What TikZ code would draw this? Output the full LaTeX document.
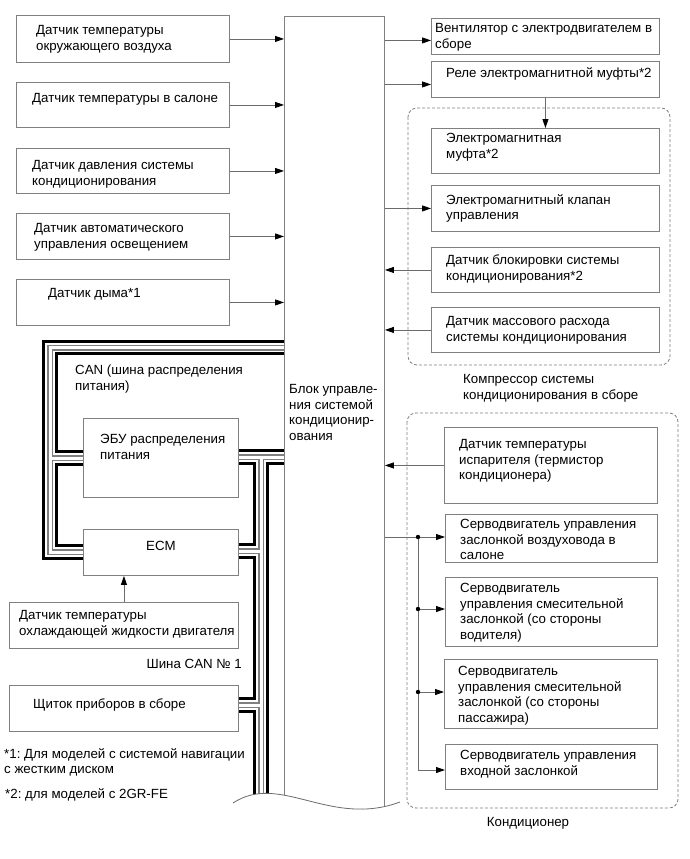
\documentclass[tikz,border=0pt]{standalone}
\usepackage{fontspec}
\setmainfont{Liberation Sans}
\usetikzlibrary{arrows.meta, calc}
\definecolor{LineGray}{gray}{0.42}
\definecolor{BoxGray}{gray}{0.5}
\definecolor{WireGray}{gray}{0.5}
\newcommand{\canbus}[1]{% #1 = trayectoria del bus (todas las ramas)
  \draw[black, line width=15.5pt, line join=miter] #1;
  \draw[white, line width=9.5pt, line join=miter] #1;
  \draw[WireGray, line width=6pt, line join=miter] #1;
  \draw[white, line width=3pt, line join=miter] #1;
}
\frenchspacing

\begin{document}
\begin{tikzpicture}[
    x=1pt, y=-1pt,
    font=\fontsize{13.3}{15.7}\selectfont,
    box/.style 2 args={draw=BoxGray, line width=0.9pt, fill=white, inner sep=0,
        anchor=north west, minimum width=#1, minimum height=#2},
    txt/.style={align=left, inner sep=0, anchor=north west},
    conn/.style={draw=LineGray, line width=0.8pt},
    arr/.style={conn, -{Triangle[length=9pt, width=6pt, color=black]}},
    grp/.style={draw=BoxGray, line width=0.8pt, dash pattern=on 3pt off 2pt, rounded corners=9pt},
]
\path[use as bounding box] (0,0) rectangle (689,859);

% ===== блок управления =====
\node[draw=BoxGray, line width=0.9pt, inner sep=0, anchor=north west,
    minimum width=100pt, minimum height=800pt] (main) at (284,16) {};
\node[txt] (maint) at ($(main.north west)+(5,368)$)
    {Блок управле-\\ния системой\\кондиционир-\\ования};

% ===== шины CAN =====
\canbus{(284,347.5) -- (50,347.5) -- (50,552) -- (83,552) (50,458) -- (83,458)}
\canbus{(284,457) -- (238,457) (261,457) -- (261,815) (261,551) -- (238,551) (261,705) -- (238,705)}

% ===== группы =====
\draw[grp] (408,108) rectangle (670,365);
\draw[grp] (407,413) rectangle (678,808);

% ===== датчики слева =====
\node[box={213pt}{47pt}] (s1) at (16,15) {};
\node[box={213pt}{45pt}] (s2) at (16,82) {};
\node[box={213pt}{45pt}] (s3) at (16,148) {};
\node[box={213pt}{46pt}] (s4) at (16,213) {};
\node[box={213pt}{46pt}] (s5) at (16,279) {};
\node[box={155pt}{79pt}] (pdu) at (83,418) {};
\node[box={155pt}{46pt}] (ecm) at (83,529) {};
\node[box={229pt}{46pt}] (clt) at (9,602) {};
\node[box={229pt}{46pt}] (cmb) at (9,685) {};

\node[txt] (s1t) at ($(s1.north west)+(20,10)$) {Датчик температуры\\окружающего воздуха};
\node[txt] (s2t) at ($(s2.north west)+(16,11)$) {Датчик температуры в салоне};
\node[txt] (s3t) at ($(s3.north west)+(16,12)$) {Датчик давления системы\\кондиционирования};
\node[txt] (s4t) at ($(s4.north west)+(18,10)$) {Датчик автоматического\\управления освещением};
\node[txt] (s5t) at ($(s5.north west)+(32,9)$) {Датчик дыма*1};
\node[txt] (pdut) at ($(pdu.north west)+(17,16)$) {ЭБУ распределения\\питания};
\node[txt, anchor=north] (ecmt) at ($(ecm.north)+(0,12)$) {ECM};
\node[txt] (cltt) at ($(clt.north west)+(10,8)$) {Датчик температуры\\охлаждающей жидкости двигателя};
\node[txt] (cmbt) at ($(cmb.north west)+(24,14)$) {Щиток приборов в сборе};

\node[txt] (canp) at (75,365) {CAN (шина распределения\\питания)};
\node[txt, anchor=north east] (can1) at (242,659) {Шина CAN № 1};
\node[txt] (fn1) at (4,748) {*1: Для моделей с системой навигации\\с жестким диском};
\node[txt] (fn2) at (5,788) {*2: для моделей с 2GR-FE};

% ===== исполнительные устройства справа =====
\node[box={228pt}{36pt}] (fan) at (431,18) {};
\node[box={228pt}{36pt}] (rly) at (431,61) {};
\node[box={228pt}{45pt}] (mgc) at (431,128) {};
\node[box={228pt}{46pt}] (sol) at (431,185) {};
\node[box={228pt}{45pt}] (lck) at (431,247) {};
\node[box={228pt}{45pt}] (mfl) at (431,307) {};
\node[box={213pt}{76pt}] (eva) at (444,427) {};
\node[box={212pt}{48pt}] (sv1) at (445,514) {};
\node[box={212pt}{69pt}] (sv2) at (445,577) {};
\node[box={213pt}{69pt}] (sv3) at (444,659) {};
\node[box={212pt}{45pt}] (sv4) at (445,744) {};

\node[txt] (fant) at ($(fan.north west)+(4,5)$) {Вентилятор с электродвигателем в\\сборе};
\node[txt] (rlyt) at ($(rly.north west)+(15,6)$) {Реле электромагнитной муфты*2};
\node[txt] (mgct) at ($(mgc.north west)+(15,5)$) {Электромагнитная\\муфта*2};
\node[txt] (solt) at ($(sol.north west)+(15,9)$) {Электромагнитный клапан\\управления};
\node[txt] (lckt) at ($(lck.north west)+(15,8)$) {Датчик блокировки системы\\кондиционирования*2};
\node[txt] (mflt) at ($(mfl.north west)+(15,9)$) {Датчик массового расхода\\системы кондиционирования};
\node[txt] (evat) at ($(eva.north west)+(15,12)$) {Датчик температуры\\испарителя (термистор\\кондиционера)};
\node[txt] (sv1t) at ($(sv1.north west)+(15,5)$) {Серводвигатель управления\\заслонкой воздуховода в\\салоне};
\node[txt] (sv2t) at ($(sv2.north west)+(15,6)$) {Серводвигатель\\управления смесительной\\заслонкой (со стороны\\водителя)};
\node[txt] (sv3t) at ($(sv3.north west)+(14,7)$) {Серводвигатель\\управления смесительной\\заслонкой (со стороны\\пассажира)};
\node[txt] (sv4t) at ($(sv4.north west)+(15,6)$) {Серводвигатель управления\\входной заслонкой};

\node[txt] (cmpt) at (463,374) {Компрессор системы\\кондиционирования в сборе};
\node[txt, anchor=north] (hvact) at (528,817) {Кондиционер};

% ===== связи =====
\foreach \s in {s1,s2,s3,s4,s5}
    \draw[arr] (\s.east) -- (\s.east -| main.west);
\draw[arr] (clt.north) -- (clt.north |- ecm.south);
\draw[arr] ($(main.east |- fan.west)+(0,4)$) -- ($(fan.west)+(0,4)$);
\draw[arr] ($(main.east |- rly.west)+(0,5)$) -- ($(rly.west)+(0,5)$);
\draw[arr] (rly.south) -- (mgc.north);
\draw[arr] (main.east |- sol.west) -- (sol.west);
\foreach \s in {lck,mfl,eva}
    \draw[arr] (\s.west) -- (\s.west -| main.east);

\coordinate (j1) at (418,537);
\coordinate (j2) at (418,609);
\coordinate (j3) at (418,692);
\coordinate (j4) at (418,770);
\draw[arr] (main.east |- j1) -- (sv1.west |- j1);
\draw[conn] (j1) -- (j4);
\draw[arr] (j2) -- (sv2.west |- j2);
\draw[arr] (j3) -- (sv3.west |- j3);
\draw[arr] (j4) -- (sv4.west |- j4);
\foreach \j in {j1,j2,j3}
    \fill (\j) circle (2.2);

% ===== обрыв снизу =====
\fill[white] (233,803) .. controls (280,772) and (330,828) .. (400,802) -- (400,830) -- (233,830) -- cycle;
\draw[conn] (233,803) .. controls (280,772) and (330,828) .. (400,802);

\end{tikzpicture}
\end{document}
